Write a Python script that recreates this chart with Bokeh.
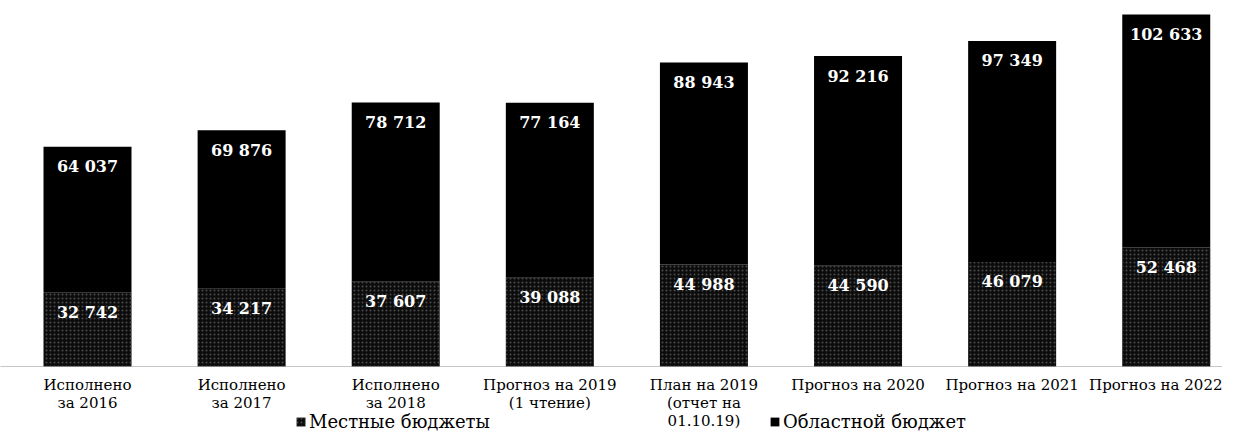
from bokeh.plotting import figure
from bokeh.models import (ColumnDataSource, Range1d, FixedTicker, Legend, LegendItem)
from bokeh.core.properties import value
from bokeh.embed import file_html
from bokeh.resources import INLINE

categories = [
    "Исполнено\nза 2016",
    "Исполнено\nза 2017",
    "Исполнено\nза 2018",
    "Прогноз на 2019\n(1 чтение)",
    "План на 2019\n(отчет на\n01.10.19)",
    "Прогноз на 2020",
    "Прогноз на 2021",
    "Прогноз на 2022",
]
local_budgets = [32742, 34217, 37607, 39088, 44988, 44590, 46079, 52468]      # Местные бюджеты
regional_budget = [64037, 69876, 78712, 77164, 88943, 92216, 97349, 102633]   # Областной бюджет
series_names = ["Местные бюджеты", "Областной бюджет"]

def fmt(v):
    return f"{v:,}".replace(",", " ")

xs = list(range(len(categories)))
totals = [a + b for a, b in zip(local_budgets, regional_budget)]
src = ColumnDataSource(dict(
    x=xs,
    local=local_budgets,
    regional=regional_budget,
    total=totals,
    local_lbl=[fmt(v) for v in local_budgets],
    regional_lbl=[fmt(v) for v in regional_budget],
))

p = figure(width=1222, height=432, output_backend="svg", toolbar_location=None,
           x_range=Range1d(-0.5646, 7.365), y_range=Range1d(-29082, 161270),
           min_border_left=0, min_border_right=0, min_border_top=0, min_border_bottom=0)
p.outline_line_color = None
p.background_fill_color = "white"
p.border_fill_color = "white"
p.xgrid.visible = False
p.ygrid.visible = False
p.yaxis.visible = False

bw = 0.571
r_local = p.vbar(x="x", bottom=0, top="local", width=bw, source=src,
                 fill_color="#0c0c0c", line_color=None,
                 hatch_pattern="dot", hatch_color="#4a4a4a", hatch_scale=4, hatch_weight=1)
r_reg = p.vbar(x="x", bottom="local", top="total", width=bw, source=src,
               fill_color="#000000", line_color=None)

lbl_font = value("DejaVu Serif")
p.text(x="x", y="total", text="regional_lbl", source=src, text_color="white",
       text_font=lbl_font, text_font_size="16px", text_font_style="bold",
       text_align="center", text_baseline="middle", y_offset=20)
p.text(x="x", y="local", text="local_lbl", source=src, text_color="white",
       text_font=lbl_font, text_font_size="16px", text_font_style="bold",
       text_align="center", text_baseline="middle", y_offset=20)

ax = p.xaxis[0]
ax.fixed_location = 0
ax.ticker = FixedTicker(ticks=xs)
ax.major_label_overrides = {i: c for i, c in zip(xs, categories)}
ax.major_tick_line_color = None
ax.major_tick_out = 0
ax.major_tick_in = 0
ax.minor_tick_line_color = None
ax.axis_line_color = "#8c8c8c"
ax.axis_line_dash = "1 1"
ax.axis_line_width = 1
ax.major_label_text_font = "DejaVu Serif"
ax.major_label_text_font_size = "15px"
ax.major_label_text_line_height = 1.0
ax.major_label_text_color = "black"
ax.major_label_standoff = 10
ax.major_label_orientation = "horizontal"

legend = Legend(items=[LegendItem(label=series_names[0], renderers=[r_local]),
                       LegendItem(label=series_names[1], renderers=[r_reg])],
                orientation="horizontal", location=(295, 0),
                spacing=279, padding=0, margin=0,
                glyph_width=11, glyph_height=11, label_standoff=3, label_height=18,
                label_text_font="DejaVu Serif", label_text_font_size="18px",
                label_text_color="black",
                border_line_color=None, background_fill_alpha=0)
p.add_layout(legend, "center")

open("out.html", "w").write(file_html(p, INLINE))
